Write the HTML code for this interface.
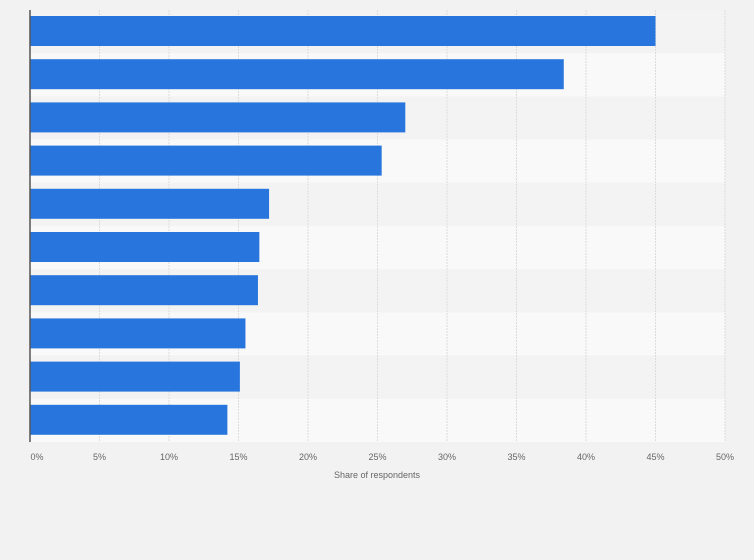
<!DOCTYPE html>
<html><head><meta charset="utf-8"><style>
body{margin:0;background:#f2f2f2;font-family:"Liberation Sans",sans-serif;}
svg{display:block}
</style></head><body>
<svg id="chart" width="754" height="560" xmlns="http://www.w3.org/2000/svg">
<rect width="754" height="560" fill="#f2f2f2"/>
<g id="bands"></g><g id="grid"></g><g id="bars"></g><g id="ticks"></g>
<line x1="30" y1="10" x2="30" y2="442" stroke="#555" stroke-width="1.5"/>
<text x="377" y="478" font-size="9" fill="#666" text-anchor="middle">Share of respondents</text>
</svg>
<script>
const categories=["c1","c2","c3","c4","c5","c6","c7","c8","c9","c10"];
const values=[45.0,38.4,27.0,25.3,17.2,16.5,16.4,15.5,15.1,14.2];
const tickValues=[0,5,10,15,20,25,30,35,40,45,50];
const tickLabels=["0%","5%","10%","15%","20%","25%","30%","35%","40%","45%","50%"];
const NS="http://www.w3.org/2000/svg";
const x0=30,x1=725,plotTop=10,plotBottom=442;
const xs=v=>x0+(x1-x0)*v/50;
const step=(plotBottom-plotTop)/categories.length;
function mk(t,a,p){const e=document.createElementNS(NS,t);for(const k in a)e.setAttribute(k,a[k]);document.getElementById(p).appendChild(e);return e;}
categories.forEach((c,i)=>{
 const b=mk('rect',{x:x0,y:plotTop+i*step,width:x1-x0,height:step,fill:i%2?'#f9f9f9':'#f3f3f3'},'bands');
 
 
 const r=mk('rect',{x:x0,y:plotTop+i*step+6,width:xs(values[i])-x0,height:30,fill:'#2876dd'},'bars');
 
 
});
tickValues.forEach((v,i)=>{
 if(v>0){const g=mk('line',{x1:xs(v),x2:xs(v),y1:plotTop,y2:plotBottom,stroke:'#dcdcdc','stroke-dasharray':'2,1'},'grid');
 
 }
 const t=mk('text',{x:xs(v)+(v===0?7:0),y:460,'font-size':9,fill:'#666','text-anchor':'middle'},'ticks');
 t.textContent=tickLabels[i];
 
 
});
</script>
</body></html>
